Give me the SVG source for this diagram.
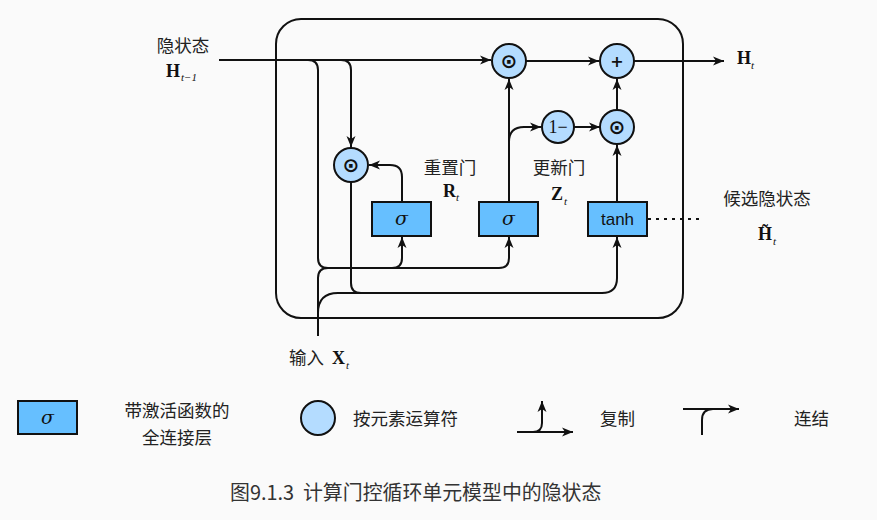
<svg xmlns="http://www.w3.org/2000/svg" width="877" height="520" viewBox="0 0 877 520">
<defs>
<marker id="ah" markerUnits="userSpaceOnUse" markerWidth="12" markerHeight="10" refX="11" refY="5" orient="auto">
<path d="M0,0.5 L11,5 L0,9.5 L3,5 z" fill="#111"/>
</marker>
<style>
.ln{fill:none;stroke:#111;stroke-width:2}
.ar{fill:none;stroke:#111;stroke-width:2;marker-end:url(#ah)}
.box{fill:#66bfff;stroke:#111;stroke-width:2}
.op{fill:#b4dcff;stroke:#111;stroke-width:2}
.cn{font-family:"Noto Sans CJK SC",sans-serif;font-size:17.5px;fill:#222}
.mb{font-family:"Liberation Serif",serif;font-weight:bold;font-size:18px;fill:#111}
.ms{font-family:"Liberation Serif",serif;font-style:italic;font-size:11px;fill:#111}
.sg{font-family:"DejaVu Serif",serif;font-style:italic;font-size:19px;fill:#111}
.sym{font-family:"DejaVu Sans",sans-serif;font-size:20px;font-weight:bold;fill:#111}
</style>
</defs>
<rect width="877" height="520" fill="#fafafa"/>

<g id="cell">
<rect x="276" y="19" width="407" height="299" rx="25" class="ln"/>
</g>

<g id="connectors">
<path class="ar" d="M219,60 H491"/>
<path class="ln" d="M308,60 Q318,60 318,70 V258 Q318,268 328,268"/>
<path class="ar" d="M341,60 Q351,60 351,70 V147"/>
<path class="ar" d="M318,336 V278 Q318,268 328,268 H499 Q509,268 509,258 V237"/>
<path class="ar" d="M392,268 Q402,268 402,258 V237"/>
<path class="ar" d="M318,313 Q318,293 338,293 H602 Q617,293 617,278 V237"/>
<path class="ln" d="M351,182 V283 Q351,293 361,293"/>
<path class="ar" d="M402,202 V177 Q402,165 390,165 H369"/>
<path class="ar" d="M509,202 V79"/>
<path class="ar" d="M509,142 Q509,127 524,127 H541"/>
<path class="ar" d="M574,127 H600"/>
<path class="ar" d="M617,202 V145"/>
<path class="ar" d="M617,110 V79"/>
<path class="ar" d="M526,61 H599"/>
<path class="ar" d="M634,61 H724"/>
<path class="ln" d="M648,219 H704" stroke-dasharray="3,5"/>
</g>

<g id="reset_mul">
<circle cx="351" cy="165" r="17" class="op"/>
<text x="351" y="172" text-anchor="middle" class="sym">⊙</text>
</g>
<g id="reset_gate">
<rect x="372" y="202" width="59" height="34" class="box"/>
<text x="401.5" y="225" text-anchor="middle" class="sg">σ</text>
</g>
<g id="update_gate">
<rect x="479" y="202" width="59" height="34" class="box"/>
<text x="508.5" y="225" text-anchor="middle" class="sg">σ</text>
</g>
<g id="tanh_layer">
<rect x="588" y="202" width="59" height="34" class="box"/>
<text x="617.5" y="225" text-anchor="middle" font-family="Liberation Sans,sans-serif" font-size="17" fill="#111">tanh</text>
</g>
<g id="top_mul">
<circle cx="509" cy="61" r="17" class="op"/>
<text x="509" y="68" text-anchor="middle" class="sym">⊙</text>
</g>
<g id="plus">
<circle cx="617" cy="61" r="17" class="op"/>
<text x="617" y="67" text-anchor="middle" font-family="DejaVu Sans,sans-serif" font-size="16" font-weight="bold" fill="#111">+</text>
</g>
<g id="one_minus">
<circle cx="558" cy="127" r="16" class="op"/>
<text x="558" y="133" text-anchor="middle" font-family="Liberation Serif,serif" font-size="18" fill="#111">1−</text>
</g>
<g id="low_mul">
<circle cx="617" cy="127" r="17" class="op"/>
<text x="617" y="134" text-anchor="middle" class="sym">⊙</text>
</g>

<g id="labels">
<text x="183" y="51.5" text-anchor="middle" class="cn">隐状态</text>
<text x="166" y="77" class="mb">H</text><text x="181" y="81" class="ms">t−1</text>
<text x="450" y="173.5" text-anchor="middle" class="cn">重置门</text>
<text x="443" y="197" class="mb">R</text><text x="456" y="201" class="ms">t</text>
<text x="559" y="173.5" text-anchor="middle" class="cn">更新门</text>
<text x="551" y="200" class="mb">Z</text><text x="564" y="205" class="ms">t</text>
<text x="767" y="204.5" text-anchor="middle" class="cn">候选隐状态</text>
<text x="758" y="240" class="mb">H̃</text><text x="773" y="245" class="ms">t</text>
<text x="737" y="64" class="mb">H</text><text x="751" y="69" class="ms">t</text>
<text x="289" y="364" class="cn">输入</text>
<text x="332" y="364" class="mb">X</text><text x="346" y="369" class="ms">t</text>
</g>

<g id="legend">
<rect x="18" y="401" width="59" height="33" class="box"/>
<text x="47.5" y="424" text-anchor="middle" class="sg">σ</text>
<text x="177" y="416.5" text-anchor="middle" class="cn">带激活函数的</text>
<text x="177" y="443.5" text-anchor="middle" class="cn">全连接层</text>
<circle cx="318" cy="418" r="17" class="op"/>
<text x="353" y="424.5" class="cn">按元素运算符</text>
<path class="ar" d="M517,432 H573"/>
<path class="ar" d="M533,432 Q542,432 542,423 V401"/>
<text x="600" y="424.5" class="cn">复制</text>
<path class="ar" d="M683,409 H739"/>
<path class="ln" d="M702,435 V420 Q702,409 713,409"/>
<text x="794" y="424.5" class="cn">连结</text>
</g>

<text x="230" y="500" font-family="Noto Sans CJK SC,sans-serif" font-size="19.9" fill="#333" xml:space="preserve">图9.1.3  计算门控循环单元模型中的隐状态</text>
</svg>
